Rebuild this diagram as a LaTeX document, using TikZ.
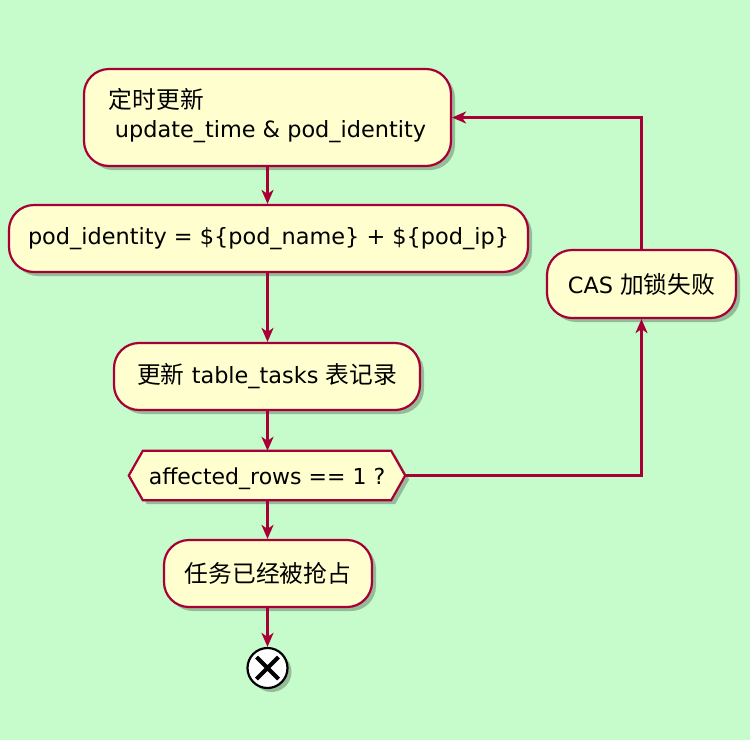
\documentclass[tikz,border=0pt]{standalone}
\usepackage{fontspec}
\setmainfont{DejaVu Sans}
\newfontfamily\cjk[Scale=1.06]{Noto Sans CJK SC}
\usetikzlibrary{arrows.meta,shadows,positioning}
\definecolor{bgc}{HTML}{C6FCCB}
\definecolor{fc}{HTML}{FEFECE}
\definecolor{bc}{HTML}{A80036}
\newcommand{\dn}[1]{\raisebox{-3pt}{#1}}
\begin{document}
\begin{tikzpicture}[x=1pt,y=-1pt,
  shd/.style={drop shadow={shadow xshift=4pt,shadow yshift=-4pt,fill=black,opacity=0.25}},
  box/.style={draw=bc,fill=fc,line width=2.2pt,rounded corners=25pt,inner sep=0pt,shd,font=\fontsize{22.4}{29}\selectfont},
  lbl/.style={inner sep=0pt,font=\fontsize{22}{29}\selectfont},
  conn/.style={draw=bc,line width=2.2pt,-{Stealth[length=14pt,width=12pt,inset=4pt]}},
  line/.style={draw=bc,line width=2.2pt}]
\fill[bgc] (0,0) rectangle (750,740);
\useasboundingbox (0,0) rectangle (750,740);
\node[box,minimum width=367pt,minimum height=97pt] (b1) at (267.5,117.5)
  {\dn{\begin{tabular}{@{}l@{}}{\cjk 定时更新}\\[0pt]\hspace{6pt}update\_time \& pod\_identity\end{tabular}}};
\node[box,minimum width=519pt,minimum height=67pt] (b2) at (268.5,238.5)
  {\dn{pod\_identity = \$\{pod\_name\} + \$\{pod\_ip\}}};
\node[box,minimum width=306pt,minimum height=67pt] (b3) at (267,376.5)
  {\dn{{\cjk 更新} table\_tasks {\cjk 表记录}}};
\node[inner sep=0pt,minimum width=276pt,minimum height=49pt] (d) at (267,475.5) {};
\path[draw=bc,fill=fc,line width=2.2pt,shd] (d.west) -- ([xshift=14pt]d.north west) -- ([xshift=-14pt]d.north east) -- (d.east) -- ([xshift=-14pt]d.south east) -- ([xshift=14pt]d.south west) -- cycle;
\node[lbl] (dl) at ([yshift=-3pt]d.center) {affected\_rows == 1 ?};
\node[box,minimum width=208pt,minimum height=67pt] (b5) at (268,573.5)
  {\dn{\cjk 任务已经被抢占}};
\node[box,minimum width=189pt,minimum height=68pt] (cas) at (641.5,284)
  {\dn{CAS {\cjk 加锁失败}}};
\node[circle,draw=black,fill=white,line width=2.2pt,minimum size=40pt,inner sep=0pt,shd] (end) at (267.5,668) {};
\draw[black,line width=4pt] ([shift={(-11pt,-11pt)}]end.center) -- ([shift={(11pt,11pt)}]end.center)
  ([shift={(-11pt,11pt)}]end.center) -- ([shift={(11pt,-11pt)}]end.center);
\coordinate (c1) at (641.5,475.5);
\coordinate (c2) at (641.5,117.5);
\draw[conn] (b1.south) -- (b2.north -| b1.south);
\draw[conn] (b2.south -| b1.south) -- (b3.north -| b1.south);
\draw[conn] (b3.south -| b1.south) -- (d.north -| b1.south);
\draw[conn] (d.south -| b1.south) -- (b5.north -| b1.south);
\draw[conn] (b5.south -| b1.south) -- (end.north);
\draw[conn] (d.east) -- (c1) -- (cas.south);
\draw[conn] (cas.north) -- (c2) -- (b1.east);
\end{tikzpicture}
\end{document}
